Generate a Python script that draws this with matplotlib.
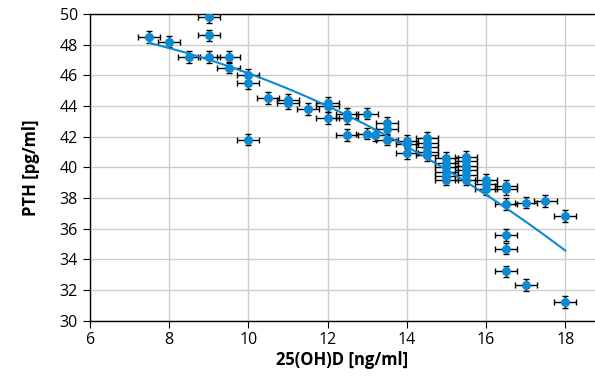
import numpy as np
import matplotlib.pyplot as plt

plt.rcParams['font.family'] = ['Open Sans', 'DejaVu Sans']

# 25(OH)D [ng/ml] vs PTH [pg/ml]
vit_d = [7.5, 8.0, 8.5, 9.0, 9.0, 9.0, 9.5, 9.5, 10.0, 10.0, 10.0, 10.5,
         11.0, 11.0, 11.5, 12.0, 12.0, 12.0, 12.5, 12.5, 12.5, 13.0, 13.0, 13.2,
         13.5, 13.5, 13.5, 14.0, 14.0, 14.0,
         14.5, 14.5, 14.5, 14.5, 14.5,
         15.0, 15.0, 15.0, 15.0, 15.0, 15.0,
         15.5, 15.5, 15.5, 15.5, 15.5, 15.5,
         16.0, 16.0, 16.0, 16.5, 16.5, 16.5, 17.0, 17.5, 18.0,
         16.5, 16.5, 16.5, 17.0, 18.0]
pth = [48.5, 48.2, 47.2, 47.2, 48.6, 49.8, 47.2, 46.5, 46.0, 45.5, 41.8, 44.5,
       44.4, 44.2, 43.8, 44.2, 44.0, 43.2, 43.5, 43.2, 42.1, 43.5, 42.2, 42.1,
       42.9, 42.5, 41.8, 41.7, 41.5, 40.9,
       41.9, 41.6, 41.3, 41.0, 40.8,
       40.6, 40.3, 40.0, 39.7, 39.4, 39.2,
       40.7, 40.4, 40.1, 39.8, 39.5, 39.2,
       39.2, 38.9, 38.6, 38.8, 38.6, 37.6, 37.7, 37.8, 36.8,
       35.6, 34.7, 33.2, 32.3, 31.2]
x_err = 0.28
y_err = 0.38

blue = '#0a8ad2'

fig = plt.figure(figsize=(5.95, 3.78), dpi=100)
ax = fig.add_axes([0.151, 0.152, 0.849, 0.811])

ax.errorbar(vit_d, pth, xerr=x_err, yerr=y_err, fmt='none', ecolor='black',
            elinewidth=1, capsize=2.5, capthick=1, zorder=3)
ax.plot(vit_d, pth, 'o', color=blue, markersize=6.5, markeredgewidth=0, zorder=4)

# quadratic trend line
coef = np.polyfit(vit_d, pth, 2)
xs = np.linspace(min(vit_d), max(vit_d), 100)
ax.plot(xs, np.polyval(coef, xs), color=blue, lw=1.5, zorder=5)

ax.set_xlim(6, 18.75)
ax.set_ylim(30, 50)
ax.set_xticks(np.arange(6, 19, 2))
ax.set_yticks(np.arange(30, 51, 2))
ax.grid(True, color='#cccccc', lw=1)
ax.set_axisbelow(True)
ax.spines['right'].set_visible(False)
for s in ['left', 'bottom', 'top']:
    ax.spines[s].set_color('black')
    ax.spines[s].set_linewidth(1)
ax.tick_params(direction='out', length=5, labelsize=11.5, colors='black')

ax.set_xlabel('25(OH)D [ng/ml]', fontsize=12, fontweight='bold', labelpad=2)
ax.set_ylabel('PTH [pg/ml]', fontsize=12, fontweight='bold', labelpad=14)

fig.savefig('out.png', dpi=100)
